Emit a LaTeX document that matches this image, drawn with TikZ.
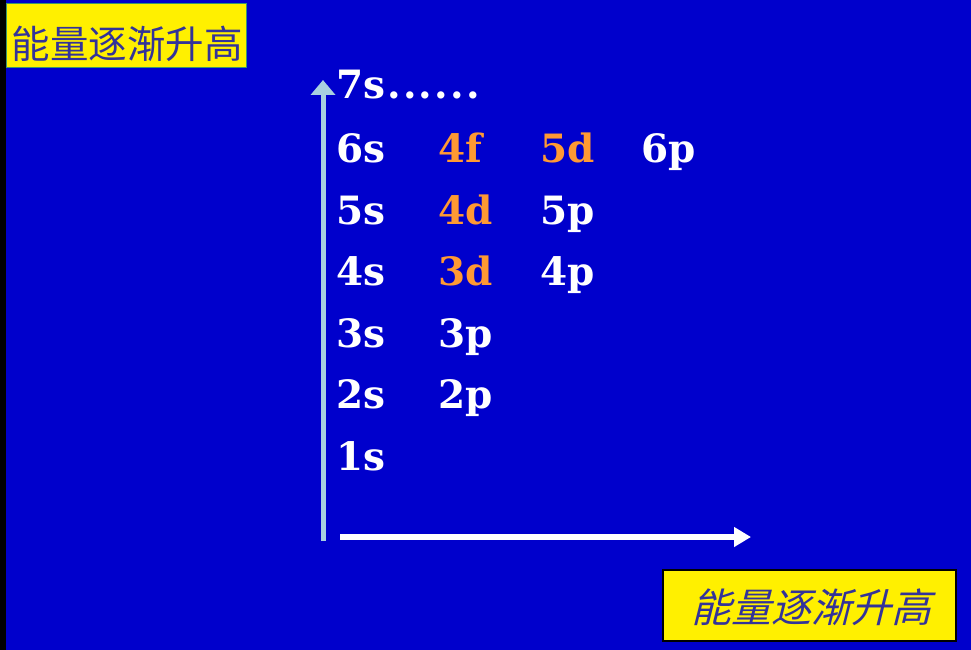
\documentclass[tikz,border=0pt]{standalone}
\usepackage{fontspec}
\setmainfont{DejaVu Serif}
\newfontfamily\cjk{Noto Sans CJK SC}
\newfontfamily\cjkslant[FakeSlant=0.25]{Noto Sans CJK SC}
\usetikzlibrary{arrows.meta}
\definecolor{bg}{HTML}{0000CC}
\definecolor{orb}{HTML}{FF9933}
\definecolor{axisv}{HTML}{A8D0E0}
\definecolor{boxy}{HTML}{FFF000}
\definecolor{cjktext}{HTML}{333399}
\newcommand{\spdot}{.\kern2.2pt}
\tikzset{
  orbital/.style={anchor=base west, inner sep=0pt, text=white, font=\fontsize{39}{39}\selectfont\bfseries},
  hot/.style={orbital, text=orb},
  labelbox/.style={fill=boxy, inner sep=0pt, text=cjktext}
}
\begin{document}
\begin{tikzpicture}[x=1pt,y=-1pt]
\useasboundingbox (0,0) rectangle (971,650);
\fill[bg] (0,0) rectangle (971,650);
\fill[black] (0,0) rectangle (6,650);
% label boxes
\draw[labelbox, draw={rgb,255:red,60;green,150;blue,110}, line width=0.8pt] (6,3) rectangle (246,67);
\node[text=cjktext, font=\cjk\fontsize{38.5}{38.5}\selectfont, inner sep=0pt] (lbltop) at (127,44) {能量逐渐升高};
\draw[labelbox, draw=black, line width=1.2pt] (663,570) rectangle (956,641);
\node[text=cjktext, font=\cjkslant\fontsize{40}{40}\selectfont, inner sep=0pt] (lblbot) at (811,607) {能量逐渐升高};
% axes
\coordinate (vstart) at (323,541);
\coordinate (vend) at (323,80);
\coordinate (hstart) at (340,537);
\coordinate (hend) at (751,537);
\draw[axisv, line width=5pt, -{Triangle[width=24pt,length=15pt]}] (vstart) -- (vend);
\draw[white, line width=6pt, -{Triangle[width=19pt,length=17pt]}] (hstart) -- (hend);
% orbitals
\node[orbital] (o7s) at (336,99) {7s\kern2pt\spdot\spdot\spdot\spdot\spdot.};
\node[orbital] (o6s) at (336,162) {6s};
\node[hot] (o4f) at (438,162) {4f};
\node[hot] (o5d) at (540,162) {5d};
\node[orbital] (o6p) at (641,162) {6p};
\node[orbital] (o5s) at (336,224) {5s};
\node[hot] (o4d) at (438,224) {4d};
\node[orbital] (o5p) at (540,224) {5p};
\node[orbital] (o4s) at (336,285) {4s};
\node[hot] (o3d) at (438,285) {3d};
\node[orbital] (o4p) at (540,285) {4p};
\node[orbital] (o3s) at (336,347) {3s};
\node[orbital] (o3p) at (438,347) {3p};
\node[orbital] (o2s) at (336,408) {2s};
\node[orbital] (o2p) at (438,408) {2p};
\node[orbital] (o1s) at (336,470) {1s};
\end{tikzpicture}
\end{document}
